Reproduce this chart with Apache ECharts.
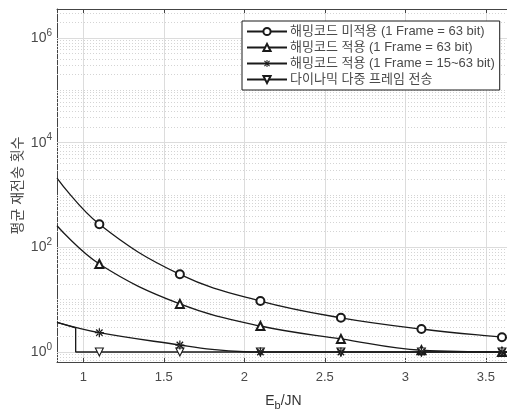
<!DOCTYPE html>
<html>
<head>
<meta charset="utf-8">
<script src="https://cdn.jsdelivr.net/npm/echarts@6/dist/echarts.min.js"></script>
<style>
  html, body { margin: 0; background: #fff; }
  #chart { width: 507px; height: 412px; }
</style>
</head>
<body>
<div id="chart"></div>
<script>
// values
const seriesNames = [
  '해밍코드 미적용 (1 Frame = 63 bit)',
  '해밍코드 적용 (1 Frame = 63 bit)',
  '해밍코드 적용 (1 Frame = 15~63 bit)',
  '다이나믹 다중 프레임 전송'
]
const markerX = [1.1, 1.6, 2.1, 2.6, 3.1, 3.6]

const noHamX = [0.837, 1.1, 1.6, 2.1, 2.6, 3.1, 3.6, 3.65]
const noHamY = [2110, 275, 30.5, 9.4, 4.5, 2.75, 1.91, 1.87]

const hamX = [0.837, 1.1, 1.6, 2.1, 2.6, 3.1, 3.6, 3.65]
const hamY = [259, 48, 8.3, 3.14, 1.78, 1.08, 1.0, 1.0]

const hamVarX = [0.837, 1.1, 1.6, 1.8, 2.0, 2.1, 2.6, 3.1, 3.6, 3.65]
const hamVarY = [3.69, 2.34, 1.36, 1.12, 1.01, 1, 1, 1, 1, 1]

const dynX = [0.837, 0.953, 0.953, 1.1, 1.6, 2.1, 2.6, 3.1, 3.6, 3.65]
const dynY = [3.69, 2.9, 1, 1, 1, 1, 1, 1, 1, 1]

const xTicks = [1, 1.5, 2, 2.5, 3, 3.5]
const yLabelExp = [0, 2, 4, 6]

// grid lines of the log axis
const majorY = [1, 100, 1e4, 1e6]
const minorY = []
for (let k = -1; k <= 6; k++) {
  for (let m = 1; m <= 9; m++) {
    const v = m * Math.pow(10, k)
    if (v < 0.644 || v > 3.58e6) continue
    if (m === 1 && k % 2 === 0) continue
    minorY.push(v)
  }
}

const asterisk = 'path://M-1.1,-8h2.2v16h-2.2z M-8,-1.1h16v2.2h-16z M-6.5,-4.9L-4.9,-6.5L6.5,4.9L4.9,6.5z M-6.5,4.9L-4.9,6.5L6.5,-4.9L4.9,-6.5z'
const ink = '#1a1a1a'
const fontFamily = '"Liberation Sans", "Noto Sans CJK KR", sans-serif'

function toData(xs, ys) {
  return xs.map((x, i) => {
    const item = { value: [x, ys[i]] }
    if (markerX.indexOf(x) < 0) item.symbol = 'none'
    return item
  })
}

function mkSeries(name, xs, ys, symbol, size, smooth, itemStyle, z) {
  return {
    name: name,
    type: 'line',
    data: toData(xs, ys),
    smooth: smooth,
    symbol: symbol,
    symbolSize: size,
    showAllSymbol: true,
    z: z,
    lineStyle: { color: ink, width: 1.3 },
    itemStyle: itemStyle
  }
}

const chart = echarts.init(document.getElementById('chart'))

const option = {
  animation: false,
  textStyle: { fontFamily: fontFamily },
  grid: { left: 57, right: -3, top: 9, bottom: 50, outerBoundsMode: 'none' },
  legend: {
    data: seriesNames,
    orient: 'vertical',
    left: 242,
    top: 21,
    padding: [4, 5, 4, 4],
    itemGap: 3,
    itemWidth: 40,
    itemHeight: 9,
    backgroundColor: '#fff',
    borderColor: ink,
    borderWidth: 1,
    borderRadius: 0,
    z: 20,
    textStyle: { color: '#4a4a4a', fontSize: 13, fontFamily: fontFamily, padding: [0, 0, 0, -2] }
  },
  xAxis: [{
    type: 'value',
    min: 0.837,
    max: 3.65,
    splitNumber: 5,
    name: '{e|E}{s|b}{e|/JN}',
    nameLocation: 'middle',
    nameGap: 30,
    nameTextStyle: {
      rich: {
        e: { fontSize: 14, color: '#333', fontFamily: fontFamily },
        s: { fontSize: 11, color: '#333', fontFamily: fontFamily, padding: [8, 0, 0, 0] }
      }
    },
    axisLine: { lineStyle: { color: '#444', width: 1 } },
    axisTick: { inside: true, length: 4, lineStyle: { color: '#444' } },
    axisLabel: {
      color: '#4a4a4a', fontSize: 13, margin: 9,
      formatter: v => xTicks.some(t => Math.abs(t - v) < 1e-6) ? String(v) : ''
    },
    splitLine: { show: true, lineStyle: { color: '#dcdcdc', width: 1 } }
  }, {
    type: 'value',
    position: 'top',
    min: 0.837,
    max: 3.65,
    splitNumber: 5,
    axisLine: { show: true, lineStyle: { color: '#444', width: 1 } },
    axisTick: { show: true, inside: true, length: 4, lineStyle: { color: '#444' } },
    axisLabel: { show: false },
    splitLine: { show: false }
  }],
  yAxis: {
    type: 'log',
    logBase: 10,
    min: 0.644,
    max: 3.58e6,
    name: '평균 재전송 횟수',
    nameLocation: 'middle',
    nameGap: 32,
    nameMoveOverlap: false,
    nameTextStyle: { color: '#4a4a4a', fontSize: 14, fontFamily: fontFamily },
    axisLine: { show: true, lineStyle: { color: '#444', width: 1 } },
    axisTick: { show: false },
    axisLabel: {
      margin: 5,
      formatter: v => {
        const e = Math.log10(v)
        const r = Math.round(e)
        if (Math.abs(e - r) > 1e-6 || yLabelExp.indexOf(r) < 0) return ''
        return '{b|10}{s|' + r + '}'
      },
      rich: {
        b: { fontSize: 14, color: '#4a4a4a', fontFamily: fontFamily },
        s: { fontSize: 10, color: '#4a4a4a', fontFamily: fontFamily, padding: [0, 0, 10, 0] }
      }
    },
    splitLine: { show: false }
  },
  series: [
    {
      name: 'grid',
      type: 'line',
      data: [],
      z: 1,
      silent: true,
      markLine: {
        z: 1,
        silent: true,
        symbol: 'none',
        label: { show: false },
        animation: false,
        data: minorY.map(v => ({ yAxis: v, lineStyle: { color: '#d4d4d4', type: [1, 2], width: 1 } }))
          .concat(majorY.map(v => ({ yAxis: v, lineStyle: { color: '#dcdcdc', type: 'solid', width: 1 } })))
      }
    },
    mkSeries(seriesNames[0], noHamX, noHamY, 'emptyCircle', 8, 0.4,
      { color: ink, borderWidth: 1.1 }, 3),
    mkSeries(seriesNames[1], hamX, hamY, 'emptyTriangle', 8, 0.4,
      { color: ink, borderWidth: 1.1 }, 4),
    mkSeries(seriesNames[2], hamVarX, hamVarY, asterisk, 9, 0.4,
      { color: ink, borderWidth: 0 }, 6),
    mkSeries(seriesNames[3], dynX, dynY, 'path://M-5,-4L5,-4L0,4z', 8, false,
      { color: '#fff', borderColor: ink, borderWidth: 1.1 }, 5)
  ]
}

chart.setOption(option)
</script>
</body>
</html>
